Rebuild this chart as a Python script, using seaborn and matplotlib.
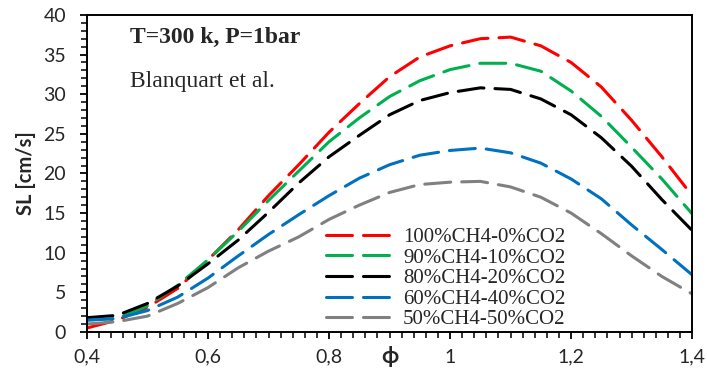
import numpy as np
import pandas as pd
import matplotlib
matplotlib.use('Agg')
import matplotlib.pyplot as plt
import matplotlib.ticker as mticker
import seaborn as sns

# equivalence ratio
phi = [0.40, 0.45, 0.50, 0.55, 0.60, 0.65, 0.70, 0.75, 0.80, 0.85, 0.90, 0.95,
       1.00, 1.05, 1.10, 1.15, 1.20, 1.25, 1.30, 1.35, 1.40]

# laminar flame speed [cm/s]
sl_100 = [0.5, 1.5, 3.1, 5.5, 9.1, 12.9, 17.2, 21.1, 25.2, 28.8, 32.2, 34.7,
          36.1, 37.0, 37.2, 36.1, 34.0, 30.9, 26.7, 22.1, 17.2]
sl_90 = [1.5, 1.7, 3.3, 5.9, 9.1, 12.7, 16.6, 20.3, 24.0, 27.0, 29.7, 31.7,
         33.1, 33.9, 33.9, 32.9, 30.4, 27.2, 23.3, 19.3, 14.9]
sl_80 = [1.8, 2.1, 3.6, 5.8, 8.6, 11.6, 15.1, 18.8, 22.1, 24.8, 27.4, 29.2,
         30.2, 30.8, 30.6, 29.4, 27.4, 24.5, 20.9, 16.7, 12.8]
sl_60 = [1.5, 1.7, 2.7, 4.4, 6.8, 9.6, 12.3, 14.8, 17.2, 19.4, 21.1, 22.3,
         22.9, 23.2, 22.6, 21.3, 19.3, 16.8, 13.5, 10.4, 7.2]
sl_50 = [1.0, 1.3, 2.0, 3.6, 5.6, 8.1, 10.2, 12.0, 14.2, 16.0, 17.6, 18.6,
         18.9, 19.0, 18.3, 17.0, 15.0, 12.4, 9.6, 7.0, 4.8]

labels = ['100%CH4-0%CO2', '90%CH4-10%CO2', '80%CH4-20%CO2',
          '60%CH4-40%CO2', '50%CH4-50%CO2']
colors = ['#FF0000', '#00B050', '#000000', '#0070C0', '#808080']

frames = []
for lab, vals in zip(labels, [sl_100, sl_90, sl_80, sl_60, sl_50]):
    frames.append(pd.DataFrame({'phi': phi, 'SL': vals, 'Mixture': lab}))
df = pd.concat(frames, ignore_index=True)

sns.set_style('white')
plt.rcParams['font.family'] = ['Lato', 'DejaVu Sans']

fig = plt.figure(figsize=(7.07, 3.73), dpi=100)
ax = fig.add_axes([0.123, 0.110, 0.856, 0.850])

DASH = [8.5, 3.6]
sns.lineplot(data=df, x='phi', y='SL', hue='Mixture', hue_order=labels,
             palette=dict(zip(labels, colors)), ax=ax, linewidth=2.2,
             dashes=False, sort=False)
for line in ax.get_lines():
    line.set_dashes(DASH)
    line.set_dash_capstyle('round')
    line.set_solid_joinstyle('round')

ax.set_xlim(0.4, 1.4)
ax.set_ylim(0, 40)
ax.xaxis.set_major_locator(mticker.MultipleLocator(0.2))
ax.xaxis.set_minor_locator(mticker.MultipleLocator(0.02))
ax.yaxis.set_major_locator(mticker.MultipleLocator(5))
ax.yaxis.set_minor_locator(mticker.MultipleLocator(1))
ax.xaxis.set_major_formatter(mticker.FuncFormatter(
    lambda v, _: ('%g' % round(v, 2)).replace('.', ',')))
ax.tick_params(axis='both', which='major', direction='out', length=5,
               width=1.3, labelsize=14, color='black')
ax.tick_params(axis='y', which='major', pad=10)
ax.tick_params(axis='x', which='major', pad=7)
ax.tick_params(axis='both', which='minor', direction='out', length=4,
               width=1.1, color='black')
ax.tick_params(axis='x', which='both', bottom=True)
ax.tick_params(axis='y', which='both', left=True)
for s in ax.spines.values():
    s.set_color('black')
    s.set_linewidth(1.4)

ax.set_xlabel('ϕ', fontsize=16, fontweight='bold')
ax.xaxis.set_label_coords(0.5, -0.045)
ax.xaxis.label.set_va('top')
ax.set_ylabel('SL [cm/s]', fontsize=14.5, fontweight='bold', labelpad=5)

ax.text(0.071, 0.93, 'T=300 k, P=1bar', transform=ax.transAxes,
        family='Liberation Serif', fontsize=17, fontweight='bold',
        ha='left', va='center')
ax.text(0.071, 0.789, 'Blanquart et al.', transform=ax.transAxes,
        family='Liberation Serif', fontsize=17, ha='left', va='center')

leg = ax.legend(loc='upper left', bbox_to_anchor=(0.395, 0.33), frameon=False,
                prop={'family': 'Liberation Serif', 'size': 15},
                handlelength=3.0, handletextpad=0.7, labelspacing=0.05,
                borderpad=0, borderaxespad=0)
for h in leg.get_lines():
    h.set_dashes(DASH)
    h.set_linewidth(2.2)

fig.savefig('out.png', dpi=100)
